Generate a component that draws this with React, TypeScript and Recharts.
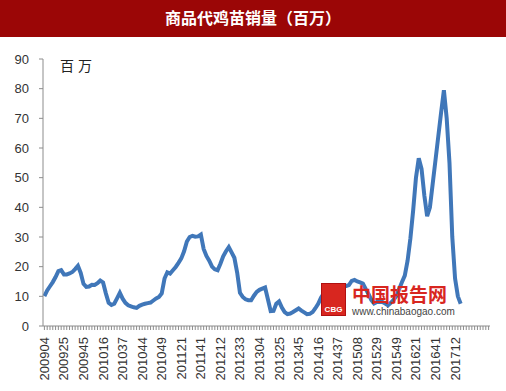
import { LineChart, Line, XAxis, YAxis } from 'recharts';

const weekLabels = [
  '200904', '200925', '200945', '201016', '201037', '201044', '201049', '201121',
  '201141', '201212', '201233', '201304', '201325', '201345', '201416', '201437',
  '201508', '201529', '201549', '201621', '201641', '201712',
];

// weekly sales, millions
const sales = [
  10.1, 12, 13.4, 14.8, 16.5, 18.5, 18.8, 17.4, 17.4, 17.7,
  18.2, 19.2, 20.3, 17.9, 14.2, 13.2, 13.3, 13.9, 13.8, 14.4,
  15.3, 14.7, 11, 7.8, 7.1, 7.5, 9.3, 11.2, 9.2, 7.8,
  7, 6.6, 6.3, 6.1, 6.8, 7.2, 7.5, 7.7, 7.9, 8.6,
  9.3, 9.8, 11, 16, 18.1, 17.7, 18.8, 19.9, 21.3, 22.8,
  25.2, 28.5, 30, 30.4, 30.1, 30.2, 30.8, 26, 23.6, 22,
  20, 19.1, 18.8, 21, 23.5, 25.2, 26.6, 24.8, 23, 18,
  11.2, 9.8, 9, 8.7, 8.7, 10.2, 11.5, 12.2, 12.6, 13,
  9, 5, 5.1, 7.5, 8.3, 6.2, 4.7, 4, 4.2, 4.7,
  5.3, 5.9, 5.2, 4.6, 4, 4.1, 4.7, 6, 7.5, 9.5,
  11, 12.2, 13, 13.2, 13.4, 13.3, 13.2, 13.3, 13.5, 13.8,
  15.2, 15.5, 15, 14.7, 14.3, 12.5, 10.8, 8.8, 7.6, 8.1,
  8.2, 8.1, 7.6, 7, 7.8, 8.8, 10.2, 12.5, 14.8, 17,
  22, 29.5, 39, 50, 56.5, 53, 44, 37, 40, 48,
  56, 64, 72, 79.5, 70, 55, 30, 16, 10, 7.5,
];

const yTicks = [0, 10, 20, 30, 40, 50, 60, 70, 80, 90];
const TOTAL_SLOTS = 160;
const LABEL_EVERY = 7;

const data = Array.from({ length: TOTAL_SLOTS }, (_, i) => ({
  idx: String(i),
  value: i < sales.length ? sales[i] : null,
}));

const font = '"Liberation Sans", Arial, sans-serif';

function WeekTick(props: any) {
  const { x, y, index } = props;
  const label = index % LABEL_EVERY === 0 ? weekLabels[index / LABEL_EVERY] : '';
  if (!label) return null;
  return (
    <text
      x={0}
      y={0}
      transform={`translate(${x + 4.5},${y + 5}) rotate(-90)`}
      textAnchor="end"
      fontSize={13}
      fontFamily={font}
      fill="#333"
    >
      {label}
    </text>
  );
}

export default function App() {
  return (
    <div style={{ position: 'absolute', left: 0, top: 0, width: 506, height: 391, background: '#fff' }}>
      <div
        style={{
          position: 'absolute', left: 0, top: 0, width: 506, height: 37, background: '#9b0606',
          color: '#fff', fontFamily: '"Noto Sans CJK SC", sans-serif', fontWeight: 'bold',
          fontSize: 16, lineHeight: '35px', textAlign: 'center',
        }}
      >
        商品代鸡苗销量（百万）
      </div>
      <LineChart width={506} height={391} data={data} margin={{ top: 59, right: 16, left: 0, bottom: 0 }}>
        <XAxis
          dataKey="idx"
          interval={0}
          height={65}
          padding={{ left: 1.4, right: 1.4 }}
          stroke="#8c8c8c"
          tickSize={4}
          tick={<WeekTick />}
        />
        <YAxis
          domain={[0, 90]}
          ticks={yTicks}
          width={43}
          stroke="#8c8c8c"
          tickSize={4}
          tickMargin={10}
          tick={{ fill: '#333', fontSize: 13, fontFamily: font }}
        />
        <Line
          type="linear"
          dataKey="value"
          stroke="#4077b9"
          strokeWidth={4}
          dot={false}
          connectNulls={false}
          isAnimationActive={false}
        />
      </LineChart>
      <div
        style={{
          position: 'absolute', left: 60, top: 55, fontSize: 14, color: '#222',
          fontFamily: '"Noto Sans CJK SC", sans-serif', letterSpacing: 4,
        }}
      >
        百万
      </div>
      <div
        style={{
          position: 'absolute', left: 321, top: 283, width: 25, height: 33, background: '#d8261f',
          color: '#fff', fontSize: 8, fontFamily: font, fontWeight: 'bold', textAlign: 'center',
          lineHeight: '52px', boxSizing: 'border-box', border: '1px solid #b01010',
        }}
      >
        CBG
      </div>
      <div
        style={{
          position: 'absolute', left: 352, top: 284, fontSize: 19, color: '#d8261f', fontWeight: 'bold',
          fontFamily: '"Noto Sans CJK SC", sans-serif', lineHeight: '20px',
        }}
      >
        中国报告网
      </div>
      <div
        style={{
          position: 'absolute', left: 352, top: 306, fontSize: 10, color: '#444', fontFamily: font,
          lineHeight: '11px',
        }}
      >
        www.chinabaogao.com
      </div>
    </div>
  );
}
